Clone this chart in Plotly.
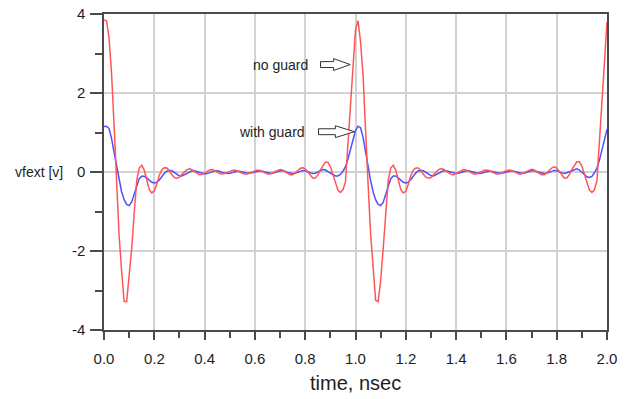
import plotly.graph_objects as go

# time axis (ns), 0.01 ns sampling
time_ns = [round(i * 0.01, 2) for i in range(201)]

no_guard = [
    3.85, 3.83, 3.40, 2.50, 1.20, -0.40, -1.60, -2.50, -3.28, -3.28,
    -2.70, -1.95, -1.05, -0.22, 0.10, 0.17, 0.05, -0.22, -0.45, -0.53,
    -0.48, -0.30, -0.08, 0.06, 0.11, 0.10, 0.03, -0.07, -0.14, -0.16,
    -0.13, -0.06, 0.01, 0.06, 0.08, 0.06, 0.01, -0.04, -0.07, -0.06,
    -0.02, 0.02, 0.05, 0.06, 0.04, 0.00, -0.04, -0.05, -0.04, -0.01,
    0.02, 0.04, 0.05, 0.03, 0.00, -0.03, -0.05, -0.05, -0.02, 0.01,
    0.04, 0.05, 0.04, 0.01, -0.02, -0.05, -0.05, -0.03, 0.01, 0.04,
    0.06, 0.05, 0.01, -0.04, -0.07, -0.07, -0.03, 0.03, 0.09, 0.11,
    0.08, 0.01, -0.08, -0.15, -0.15, -0.08, 0.05, 0.17, 0.25, 0.25,
    0.14, -0.06, -0.28, -0.46, -0.52, -0.45, -0.25, 0.75, 1.85, 2.85,
    3.60, 3.83, 3.30, 2.45, 1.25, -0.30, -1.55, -2.50, -3.25, -3.28,
    -2.75, -1.95, -1.05, -0.22, 0.10, 0.17, 0.05, -0.20, -0.44, -0.53,
    -0.49, -0.31, -0.09, 0.05, 0.10, 0.10, 0.04, -0.06, -0.13, -0.16,
    -0.14, -0.07, 0.01, 0.06, 0.08, 0.07, 0.02, -0.03, -0.06, -0.07,
    -0.04, 0.01, 0.04, 0.06, 0.05, 0.01, -0.03, -0.05, -0.05, -0.02,
    0.02, 0.04, 0.05, 0.04, 0.01, -0.03, -0.05, -0.05, -0.03, 0.01,
    0.04, 0.05, 0.04, 0.01, -0.03, -0.05, -0.05, -0.02, 0.02, 0.05,
    0.07, 0.05, 0.01, -0.04, -0.07, -0.07, -0.03, 0.04, 0.10, 0.13,
    0.10, 0.02, -0.08, -0.15, -0.15, -0.07, 0.06, 0.18, 0.26, 0.26,
    0.15, -0.05, -0.28, -0.46, -0.52, -0.45, -0.22, 0.75, 1.85, 2.90,
    3.80,
]

with_guard = [
    1.15, 1.16, 1.10, 0.85, 0.50, 0.13, -0.22, -0.50, -0.70, -0.82,
    -0.85, -0.76, -0.56, -0.33, -0.17, -0.11, -0.11, -0.15, -0.21, -0.26,
    -0.28, -0.26, -0.20, -0.11, -0.03, 0.02, 0.04, 0.03, -0.02, -0.07,
    -0.10, -0.10, -0.07, -0.03, 0.01, 0.03, 0.03, 0.01, -0.02, -0.04,
    -0.05, -0.04, -0.01, 0.01, 0.03, 0.03, 0.02, -0.01, -0.03, -0.04,
    -0.03, -0.01, 0.01, 0.02, 0.02, 0.01, -0.01, -0.03, -0.03, -0.02,
    0.00, 0.02, 0.03, 0.02, 0.00, -0.02, -0.03, -0.03, -0.01, 0.01,
    0.03, 0.03, 0.02, -0.01, -0.03, -0.04, -0.03, 0.00, 0.03, 0.04,
    0.03, 0.00, -0.03, -0.04, -0.03, 0.00, 0.04, 0.06, 0.05, 0.01,
    -0.04, -0.08, -0.10, -0.10, -0.06, 0.02, 0.13, 0.33, 0.58, 0.84,
    1.05, 1.16, 1.12, 0.88, 0.50, 0.12, -0.22, -0.50, -0.70, -0.82,
    -0.85, -0.77, -0.57, -0.34, -0.17, -0.10, -0.10, -0.15, -0.21, -0.26,
    -0.28, -0.26, -0.19, -0.10, -0.02, 0.03, 0.04, 0.03, -0.01, -0.06,
    -0.09, -0.10, -0.07, -0.03, 0.01, 0.03, 0.03, 0.01, -0.02, -0.04,
    -0.04, -0.03, -0.01, 0.01, 0.03, 0.03, 0.01, -0.01, -0.03, -0.04,
    -0.03, -0.01, 0.01, 0.02, 0.02, 0.01, -0.01, -0.03, -0.03, -0.02,
    0.00, 0.02, 0.03, 0.02, 0.00, -0.02, -0.03, -0.03, -0.01, 0.01,
    0.03, 0.03, 0.01, -0.01, -0.03, -0.04, -0.03, 0.00, 0.03, 0.04,
    0.03, 0.00, -0.03, -0.04, -0.02, 0.01, 0.04, 0.07, 0.08, 0.05,
    -0.01, -0.07, -0.12, -0.14, -0.11, -0.02, 0.10, 0.30, 0.55, 0.82,
    1.08,
]

x_ticks = [0.0, 0.2, 0.4, 0.6, 0.8, 1.0, 1.2, 1.4, 1.6, 1.8, 2.0]
x_tick_labels = ["0.0", "0.2", "0.4", "0.6", "0.8", "1.0", "1.2", "1.4", "1.6", "1.8", "2.0"]
y_ticks = [-4, -2, 0, 2, 4]
y_tick_labels = ["-4", "-2", "0", "2", "4"]

FONT = "Liberation Sans, Arial, sans-serif"
AXIS = "#4a4a4a"
GRID = "#d2d2d2"
TEXT = "#1e1e1e"

fig = go.Figure()
fig.add_trace(go.Scatter(x=time_ns, y=with_guard, mode="lines", name="with guard",
                         line=dict(color="rgb(80,80,255)", width=1.5)))
fig.add_trace(go.Scatter(x=time_ns, y=no_guard, mode="lines", name="no guard",
                         line=dict(color="rgb(255,85,85)", width=1.5)))


def hollow_arrow(tail_x, tip_x, y, head_len, shaft_half, head_half):
    hb = tip_x - head_len
    return (f"M {tail_x},{y + shaft_half} L {hb},{y + shaft_half} L {hb},{y + head_half} "
            f"L {tip_x},{y} L {hb},{y - head_half} L {hb},{y - shaft_half} "
            f"L {tail_x},{y - shaft_half} Z")


fig.add_shape(type="path", xref="x", yref="y",
              path=hollow_arrow(0.861, 0.979, 2.72, 0.066, 0.075, 0.15),
              line=dict(color="#333333", width=1), fillcolor="white")
fig.add_shape(type="path", xref="x", yref="y",
              path=hollow_arrow(0.853, 0.996, 1.02, 0.076, 0.075, 0.15),
              line=dict(color="#333333", width=1), fillcolor="white")

fig.add_annotation(x=0.818, y=2.72, xref="x", yref="y", text="no guard", showarrow=False,
                   xanchor="right", yanchor="middle", font=dict(family=FONT, size=14, color=TEXT))
fig.add_annotation(x=0.806, y=1.02, xref="x", yref="y", text="with guard", showarrow=False,
                   xanchor="right", yanchor="middle", font=dict(family=FONT, size=14, color=TEXT))
fig.add_annotation(x=-0.13, y=0, xref="paper", yref="y", text="vfext [v]", showarrow=False,
                   xanchor="center", yanchor="middle", font=dict(family=FONT, size=14, color=TEXT))
fig.add_annotation(x=0.5, y=-0.168, xref="paper", yref="paper", text="time, nsec", showarrow=False,
                   xanchor="center", yanchor="middle", font=dict(family=FONT, size=20, color=TEXT))

fig.update_layout(
    width=628, height=399,
    margin=dict(l=104, r=21, t=14, b=69, autoexpand=False),
    paper_bgcolor="white", plot_bgcolor="white",
    showlegend=False,
    font=dict(family=FONT, size=14, color=TEXT),
)
fig.update_xaxes(
    range=[0, 2], tickvals=x_ticks, ticktext=x_tick_labels, automargin=False,
    showgrid=True, gridcolor=GRID, gridwidth=1.5,
    showline=True, linecolor=AXIS, linewidth=1.5, mirror=True,
    ticks="outside", ticklen=8, tickcolor=AXIS, tickwidth=1.5,
    minor=dict(dtick=0.1, ticks="outside", ticklen=6, tickcolor=AXIS, tickwidth=1.5, showgrid=False),
    ticklabelstandoff=6, zeroline=False,
    tickfont=dict(family=FONT, size=15, color=TEXT),
)
fig.update_yaxes(
    range=[-4, 4], tickvals=y_ticks, ticktext=y_tick_labels, automargin=False,
    showgrid=True, gridcolor=GRID, gridwidth=1.5,
    showline=True, linecolor=AXIS, linewidth=1.5, mirror=True,
    ticks="outside", ticklen=12, tickcolor=AXIS, tickwidth=1.5,
    minor=dict(dtick=1, ticks="outside", ticklen=7, tickcolor=AXIS, tickwidth=1.5, showgrid=False),
    ticklabelstandoff=2, zeroline=False,
    tickfont=dict(family=FONT, size=15, color=TEXT),
)

fig.write_html("out.html", config={"displayModeBar": False},
               post_script="document.body.style.margin='0';")
